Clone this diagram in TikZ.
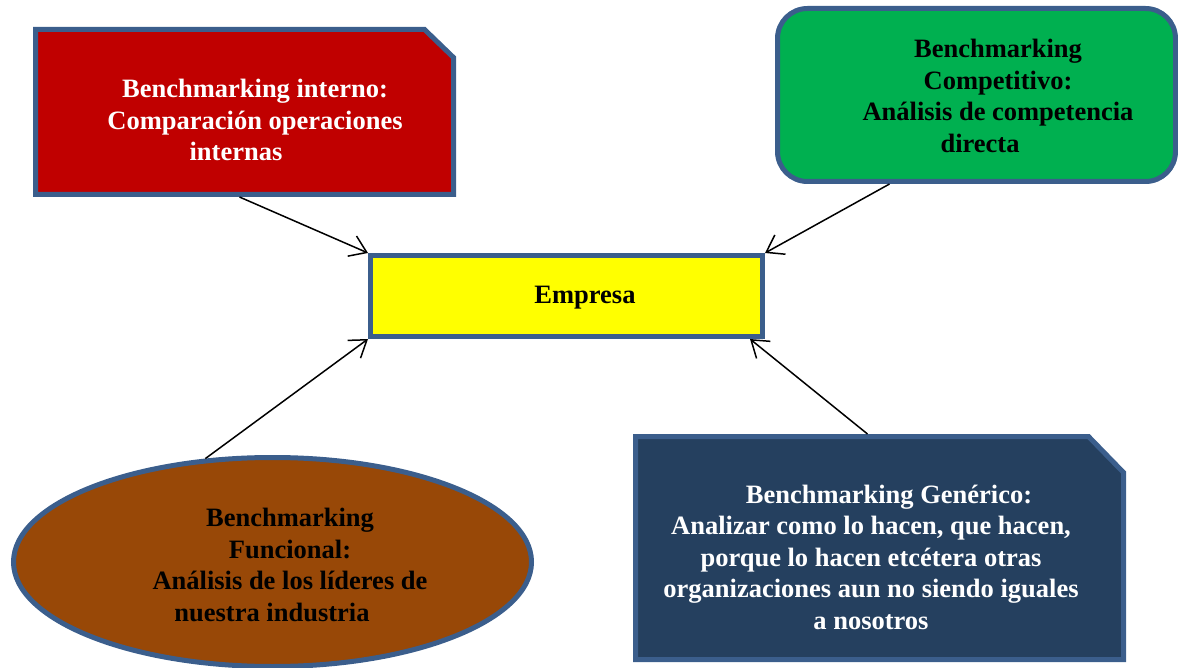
\documentclass[tikz,border=0pt]{standalone}
\usepackage{fontspec}
\setmainfont{Liberation Serif}
\usetikzlibrary{shapes.geometric,arrows.meta,calc}
\definecolor{bordc}{HTML}{3B5E8C}
\definecolor{redf}{HTML}{C00000}
\definecolor{greenf}{HTML}{00B050}
\definecolor{yellowf}{HTML}{FFFF00}
\definecolor{brownf}{HTML}{984807}
\definecolor{darkf}{HTML}{25405F}
\tikzset{
  shapebox/.style={draw=bordc, line width=5pt, inner sep=0pt},
  frame/.style={rectangle, inner sep=0pt, outer sep=0pt},
  lbl/.style={font=\fontsize{26.5}{31.5}\selectfont\bfseries, align=center, inner sep=0pt},
  conn/.style={line width=1.5pt, -{Straight Barb[length=16pt,width=22pt,line width=1.5pt]}}
}
\begin{document}
\begin{tikzpicture}[x=1pt,y=-1pt]
\useasboundingbox (0,0) rectangle (1178,668);
% frames (chamfered boxes drawn on named frames)
\node[frame, minimum width=418pt, minimum height=165pt] (red) at (244.5,112) {};
\draw[shapebox, fill=redf, line join=miter]
  (red.south west) -- (red.north west) -- ($(red.north east)+(-29,0)$)
  -- ($(red.north east)+(0,28)$) -- (red.south east) -- cycle;
\node[frame, minimum width=488pt, minimum height=223pt] (dark) at (879.5,548) {};
\draw[shapebox, fill=darkf, line join=miter]
  (dark.south west) -- (dark.north west) -- ($(dark.north east)+(-35,0)$)
  -- ($(dark.north east)+(0,36)$) -- (dark.south east) -- cycle;
\node[shapebox, rectangle, rounded corners=30pt, fill=greenf,
  minimum width=398pt, minimum height=173pt] (green) at (976.5,95) {};
\node[shapebox, rectangle, fill=yellowf,
  minimum width=392pt, minimum height=81pt] (yellow) at (566.5,296) {};
\node[shapebox, ellipse, fill=brownf,
  minimum width=518pt, minimum height=209pt] (ell) at (272.5,562) {};
% texts
\node[lbl, text=white] (redtxt) at (255,120)
  {Benchmarking interno:\\Comparación operaciones\\internas\hspace*{38pt}};
\node[lbl, text=black] (greentxt) at (998,96)
  {Benchmarking\\Competitivo:\hspace*{36pt}\\Análisis de competencia\\directa\hspace*{36pt}};
\node[lbl, text=black] (yellowtxt) at (585,298) {Empresa};
\node[lbl, text=black] (elltxt) at (290,565)
  {Benchmarking\\Funcional:\hspace*{35pt}\\Análisis de los líderes de\\nuestra industria\hspace*{36pt}};
\node[lbl, text=white] (darktxt) at (871,557)
  {\hspace*{36pt}Benchmarking Genérico:\\Analizar como lo hacen, que hacen,\\porque lo hacen etcétera otras\\organizaciones aun no siendo iguales\\a nosotros};
% connectors
\draw[conn] ($(red.south)+(-5,2.5)$) -- (yellow.north west);
\draw[conn] ($(green.south)+(-87,0)$) -- (yellow.north east);
\draw[conn] (ell.123) -- (yellow.south west);
\draw[conn] ($(dark.north)+(-12,-2.5)$) -- ($(yellow.south east)+(-15,0)$);
\end{tikzpicture}
\end{document}
